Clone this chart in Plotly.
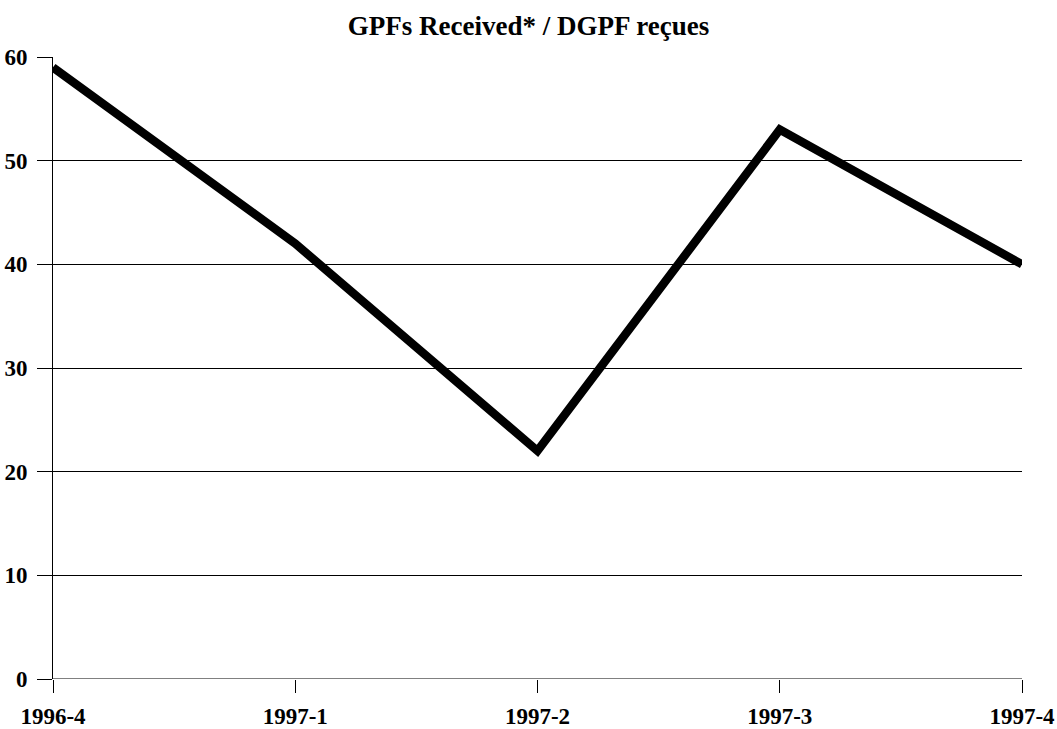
import plotly.graph_objects as go

categories = ["1996-4", "1997-1", "1997-2", "1997-3", "1997-4"]
values = [59, 42, 22, 53, 40]
y_ticks = [0, 10, 20, 30, 40, 50, 60]

fig = go.Figure()
fig.add_trace(go.Scatter(
    x=list(range(len(categories))), y=values, mode="lines",
    line=dict(color="black", width=8.5),
    hoverinfo="skip", showlegend=False,
))

font_family = "Liberation Serif, Times New Roman, serif"
fig.update_layout(
    template="none",
    width=1057, height=729,
    margin=dict(l=53, r=35, t=57, b=50, autoexpand=False),
    paper_bgcolor="white", plot_bgcolor="white",
    title=dict(text="<b>GPFs Received* / DGPF reçues</b>", x=0.5, xanchor="center",
               y=1 - 26 / 729, yanchor="middle",
               font=dict(family=font_family, size=27, color="black")),
    xaxis=dict(
        tickmode="array", tickvals=list(range(len(categories))), ticktext=categories,
        range=[0, len(categories) - 1], showgrid=False, zeroline=False, automargin=False,
        showline=False, ticks="outside", ticklen=13, tickcolor="black", tickwidth=1,
        ticklabelstandoff=3,
        tickfont=dict(family=font_family, size=23, color="black", weight="bold"),
    ),
    yaxis=dict(
        tickmode="array", tickvals=y_ticks, range=[0, 60], automargin=False,
        showgrid=True, gridcolor="black", gridwidth=1, zeroline=False,
        showline=True, linecolor="black", linewidth=1,
        ticks="outside", ticklen=15, tickcolor="black", tickwidth=1,
        ticklabelstandoff=5,
        tickfont=dict(family=font_family, size=23, color="black", weight="bold"),
    ),
)
fig.add_shape(type="line", xref="paper", yref="y", x0=0, x1=1, y0=0, y1=0,
              line=dict(color="black", width=1))

fig.write_html("out.html", config={"displayModeBar": False},
               post_script="document.body.style.margin='0';")
